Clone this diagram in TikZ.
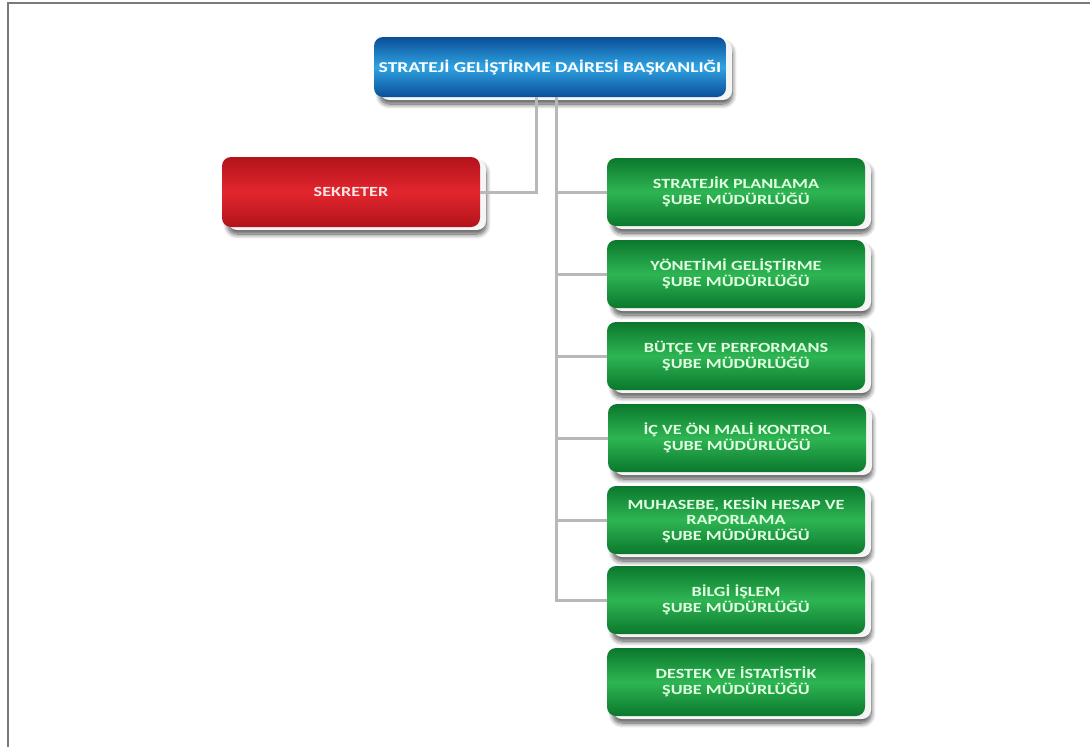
\documentclass[tikz,border=0pt]{standalone}
\usepackage{fontspec}
\setmainfont{Carlito}[FakeStretch=1.3]
\usetikzlibrary{shadows,shadows.blur}

\definecolor{bluedark}{HTML}{0A4E97}
\definecolor{bluemid}{HTML}{2FA3E2}
\definecolor{reddark}{HTML}{B3131B}
\definecolor{redmid}{HTML}{E2262E}
\definecolor{greendark}{HTML}{0B782D}
\definecolor{greenmid}{HTML}{2EB553}
\definecolor{linegray}{HTML}{B8B8B8}
\definecolor{framegray}{HTML}{7A7A7A}

\tikzset{
  unitbox/.style={
    rounded corners=9pt, inner sep=2pt, align=center,
    blur shadow={shadow xshift=6pt, shadow yshift=-7pt,
                 shadow blur radius=5pt, shadow blur steps=10, shadow opacity=70},
    general shadow={fill=gray!8, shadow yshift=-3pt}
  },
  headbox/.style={unitbox, minimum width=352pt, minimum height=60pt,
    top color=bluedark, bottom color=bluedark, middle color=bluemid,
    text=white, font=\bfseries\fontsize{15}{17}\selectfont},
  redbox/.style={unitbox, minimum width=258pt, minimum height=70pt,
    top color=reddark, bottom color=reddark, middle color=redmid,
    text=white!90!red, font=\bfseries\fontsize{14}{15.5}\selectfont},
  greenbox/.style={unitbox, minimum width=258pt, minimum height=68pt,
    top color=greendark, bottom color=greendark, middle color=greenmid,
    text=white!88!green, font=\bfseries\fontsize{14}{15.5}\selectfont},
  conn/.style={draw=linegray, line width=3pt}
}

\begin{document}
\begin{tikzpicture}[x=1pt, y=-1pt]
  \useasboundingbox (0,0) rectangle (1090,747);

  % page frame
  \draw[framegray, line width=1.5pt] (8,747) -- (8,3) -- (1090,3);

  % head of department
  \node[headbox] (top) at (550,67) {STRATEJİ GELİŞTİRME DAİRESİ BAŞKANLIĞI};

  % secretary
  \node[redbox] (sek) at (351,192) {SEKRETER};

  % branch offices
  \node[greenbox] (g1) at (736,192) {STRATEJİK PLANLAMA\\ŞUBE MÜDÜRLÜĞÜ};
  \node[greenbox] (g2) at (736,274) {YÖNETİMİ GELİŞTİRME\\ŞUBE MÜDÜRLÜĞÜ};
  \node[greenbox] (g3) at (736,356) {BÜTÇE VE PERFORMANS\\ŞUBE MÜDÜRLÜĞÜ};
  \node[greenbox] (g4) at (737,438) {İÇ VE ÖN MALİ KONTROL\\ŞUBE MÜDÜRLÜĞÜ};
  \node[greenbox] (g5) at (736,520) {MUHASEBE, KESİN HESAP VE\\RAPORLAMA\\ŞUBE MÜDÜRLÜĞÜ};
  \node[greenbox] (g6) at (736,600) {BİLGİ İŞLEM\\ŞUBE MÜDÜRLÜĞÜ};
  \node[greenbox] (g7) at (736,682) {DESTEK VE İSTATİSTİK\\ŞUBE MÜDÜRLÜĞÜ};

  % connectors
  \draw[conn] ([xshift=-14pt]top.south) |- (sek.east);
  \draw[conn] ([xshift=6pt]top.south) |- (g6.west);
  \foreach \g in {g1,g2,g3,g4,g5}
    \draw[conn] ([xshift=6pt]top.south |- \g.west) -- (\g.west);
\end{tikzpicture}
\end{document}
